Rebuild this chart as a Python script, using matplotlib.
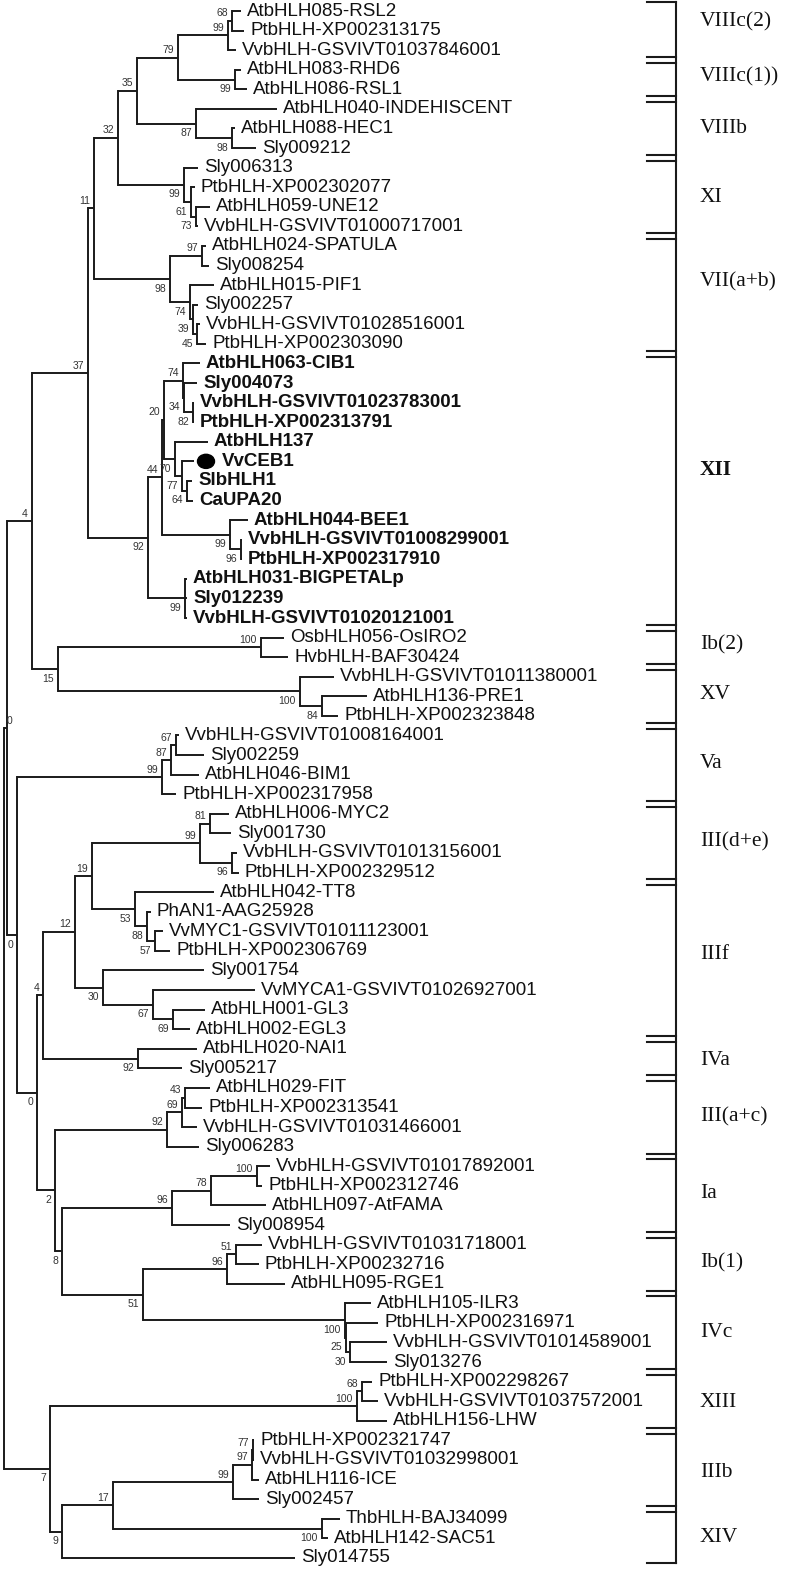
import matplotlib
matplotlib.use('Agg')
import matplotlib.pyplot as plt
from matplotlib.patches import Ellipse

# leaf labels, top to bottom
names = ['AtbHLH085-RSL2', 'PtbHLH-XP002313175', 'VvbHLH-GSVIVT01037846001', 'AtbHLH083-RHD6', 'AtbHLH086-RSL1',
         'AtbHLH040-INDEHISCENT', 'AtbHLH088-HEC1', 'Sly009212', 'Sly006313', 'PtbHLH-XP002302077',
         'AtbHLH059-UNE12', 'VvbHLH-GSVIVT01000717001', 'AtbHLH024-SPATULA', 'Sly008254', 'AtbHLH015-PIF1',
         'Sly002257', 'VvbHLH-GSVIVT01028516001', 'PtbHLH-XP002303090', 'AtbHLH063-CIB1', 'Sly004073',
         'VvbHLH-GSVIVT01023783001', 'PtbHLH-XP002313791', 'AtbHLH137', 'VvCEB1', 'SlbHLH1',
         'CaUPA20', 'AtbHLH044-BEE1', 'VvbHLH-GSVIVT01008299001', 'PtbHLH-XP002317910', 'AtbHLH031-BIGPETALp',
         'Sly012239', 'VvbHLH-GSVIVT01020121001', 'OsbHLH056-OsIRO2', 'HvbHLH-BAF30424', 'VvbHLH-GSVIVT01011380001',
         'AtbHLH136-PRE1', 'PtbHLH-XP002323848', 'VvbHLH-GSVIVT01008164001', 'Sly002259', 'AtbHLH046-BIM1',
         'PtbHLH-XP002317958', 'AtbHLH006-MYC2', 'Sly001730', 'VvbHLH-GSVIVT01013156001', 'PtbHLH-XP002329512',
         'AtbHLH042-TT8', 'PhAN1-AAG25928', 'VvMYC1-GSVIVT01011123001', 'PtbHLH-XP002306769', 'Sly001754',
         'VvMYCA1-GSVIVT01026927001', 'AtbHLH001-GL3', 'AtbHLH002-EGL3', 'AtbHLH020-NAI1', 'Sly005217',
         'AtbHLH029-FIT', 'PtbHLH-XP002313541', 'VvbHLH-GSVIVT01031466001', 'Sly006283', 'VvbHLH-GSVIVT01017892001',
         'PtbHLH-XP002312746', 'AtbHLH097-AtFAMA', 'Sly008954', 'VvbHLH-GSVIVT01031718001', 'PtbHLH-XP00232716',
         'AtbHLH095-RGE1', 'AtbHLH105-ILR3', 'PtbHLH-XP002316971', 'VvbHLH-GSVIVT01014589001', 'Sly013276',
         'PtbHLH-XP002298267', 'VvbHLH-GSVIVT01037572001', 'AtbHLH156-LHW', 'PtbHLH-XP002321747', 'VvbHLH-GSVIVT01032998001',
         'AtbHLH116-ICE', 'Sly002457', 'ThbHLH-BAJ34099', 'AtbHLH142-SAC51', 'Sly014755']

# depth of each leaf tip (same units as node depths below)
tip_x = [241, 244, 236, 241, 247, 277, 235, 256, 198, 195,
         210, 198, 206, 209, 214, 198, 200, 206, 200, 197,
         194, 194, 208, 194, 192, 193, 248, 242, 242, 187,
         187, 187, 284, 288, 334, 367, 338, 179, 204, 199,
         176, 229, 231, 237, 239, 214, 151, 163, 170, 204,
         255, 205, 190, 197, 182, 210, 202, 197, 199, 270,
         262, 266, 230, 262, 259, 285, 371, 378, 387, 387,
         372, 378, 387, 254, 254, 259, 259, 340, 328, 295]

bold_leaves = list(range(19, 33))   # subfamily XII
marked_leaf = 24                    # VvCEB1

groups = ['VIIIc(2)', 'VIIIc(1))', 'VIIIb', 'XI', 'VII(a+b)', 'XII', 'Ib(2)', 'XV', 'Va', 'III(d+e)',
          'IIIf', 'IVa', 'III(a+c)', 'Ia', 'Ib(1)', 'IVc', 'XIII', 'IIIb', 'XIV']
group_last = [3, 5, 8, 12, 18, 32, 34, 37, 41, 45, 53, 55, 59, 63, 66, 70, 73, 77, 80]
group_label_at = [1.56, 4.37, 6.98, 10.5, 14.84, 24.44, 33.38, 35.93, 39.41, 43.44,
                  49.21, 54.58, 57.49, 61.37, 64.94, 68.47, 72.04, 75.62, 78.94]


def N(x, sup, pos, *kids):
    # internal node: depth, bootstrap, label above ('a') or below ('b') the branch
    return {'x': x, 'sup': sup, 'pos': pos, 'kids': kids}


tree = N(4, None, None,
  N(7, '0', 'a',
    N(32, '4', 'a',
      N(88, '37', 'a',
        N(94, '11', 'a',
          N(118, '32', 'a',
            N(137, '35', 'a',
              N(178, '79', 'a',
                N(228, '99', 'a', N(232, '68', 'a', 1, 2), 3),
                N(235, '99', 'b', 4, 5)),
              N(196, '87', 'b', 6, N(232, '98', 'b', 7, 8))),
            N(184, '99', 'b', 9, N(191, '61', 'b', 10, N(196, '73', 'b', 11, 12)))),
          N(170, '98', 'b',
            N(202, '97', 'a', 13, 14),
            N(190, '74', 'b', 15, N(193, '39', 'b', 16, N(197, '45', 'b', 17, 18))))),
        N(148, '92', 'b',
          N(162, '44', 'a',
            N(164, '20', 'a',
              N(183, '74', 'a', 19, N(184, '34', 'b', 20, N(193, '82', 'b', 21, 22))),
              N(175, '70', 'b', 23, N(182, '77', 'b', 24, N(187, '64', 'b', 25, 26)))),
            N(230, '99', 'b', 27, N(241, '96', 'b', 28, 29))),
          N(185, '99', 'b', 30, 31, 32))),
      N(58, '15', 'b',
        N(261, '100', 'a', 33, 34),
        N(300, '100', 'b', 35, N(322, '84', 'b', 36, 37)))),
    N(17, '0', 'b',
      N(162, '99', 'a', N(171, '87', 'a', N(176, '67', 'a', 38, 39), 40), 41),
      N(37, '0', 'b',
        N(43, '4', 'a',
          N(75, '12', 'a',
            N(92, '19', 'a',
              N(200, '99', 'a', N(210, '81', 'a', 42, 43), N(232, '96', 'b', 44, 45)),
              N(135, '53', 'b', 46, N(147, '88', 'b', 47, N(155, '57', 'b', 48, 49)))),
            N(103, '30', 'b', 50, N(153, '67', 'b', 51, N(173, '69', 'b', 52, 53)))),
          N(138, '92', 'b', 54, 55)),
        N(55, '2', 'b',
          N(167, '92', 'a', N(182, '69', 'a', N(185, '43', 'a', 56, 57), 58), 59),
          N(62, '8', 'b',
            N(172, '96', 'a', N(211, '78', 'a', N(257, '100', 'a', 60, 61), 62), 63),
            N(143, '51', 'b',
              N(227, '96', 'a', N(236, '51', 'a', 64, 65), 66),
              N(345, '100', 'b', 67, N(346, '25', 'b', 68, N(350, '30', 'b', 69, 70))))))))),
  N(50, '7', 'b',
    N(357, '100', 'a', N(362, '68', 'a', 71, 72), 73),
    N(62, '9', 'b',
      N(113, '17', 'a',
        N(233, '99', 'a', N(252, '97', 'a', N(253, '77', 'a', 74, 75), 76), 77),
        N(322, '100', 'b', 78, 79)),
      80)))

fig = plt.figure(figsize=(7.85, 15.71), dpi=100)
ax = fig.add_axes([0, 0, 1, 1])
ax.set_xlim(0, 785)
ax.set_ylim(80.67, 0.438)
ax.axis('off')

lc = '#1a1a1a'
lw = 1.4


def draw(node):
    if isinstance(node, int):
        return tip_x[node - 1], float(node)
    ys = []
    for k in node['kids']:
        cx, cy = draw(k)
        ax.plot([node['x'], cx], [cy, cy], color=lc, lw=lw, solid_capstyle='butt')
        ys.append(cy)
    ax.plot([node['x'], node['x']], [min(ys), max(ys)], color=lc, lw=lw, solid_capstyle='projecting')
    y = (min(ys) + max(ys)) / 2
    if node['sup'] is not None:
        dy = -0.38 if node['pos'] == 'a' else 0.49
        ax.text(max(node['x'] - 4, 12), y + dy, node['sup'], ha='right', va='center',
                fontsize=7.5, color='#333333', family='Liberation Sans')
    return node['x'], y


draw(tree)

for i, (name, tx) in enumerate(zip(names, tip_x), start=1):
    weight = 'bold' if i in bold_leaves else 'normal'
    lx = tx + 6
    if i == marked_leaf:
        ax.add_patch(Ellipse((tx + 12, i), 17, 0.72, color='black'))
        lx = tx + 28
    ax.text(lx, i, name, ha='left', va='center', fontsize=13.5,
            fontweight=weight, family='Liberation Sans', color='#111111')

# subfamily bracket on the right
bx, bx0 = 676, 647
ax.plot([bx, bx], [0.54, 80.27], color=lc, lw=1.5)
ax.plot([bx0, bx], [0.54, 0.54], color=lc, lw=1.5)
ax.plot([bx0, bx], [80.27, 80.27], color=lc, lw=1.5)
for last in group_last[:-1]:
    for d in (-0.15, 0.15):
        ax.plot([bx0, bx], [last + 0.5 + d] * 2, color=lc, lw=1.5)

for g, gy in zip(groups, group_label_at):
    ax.text(700, gy, g, ha='left', va='center', fontsize=15.5, family='Liberation Serif',
            fontweight='bold' if g == 'XII' else 'normal', color='#111111')

fig.savefig('out.png', dpi=100)
